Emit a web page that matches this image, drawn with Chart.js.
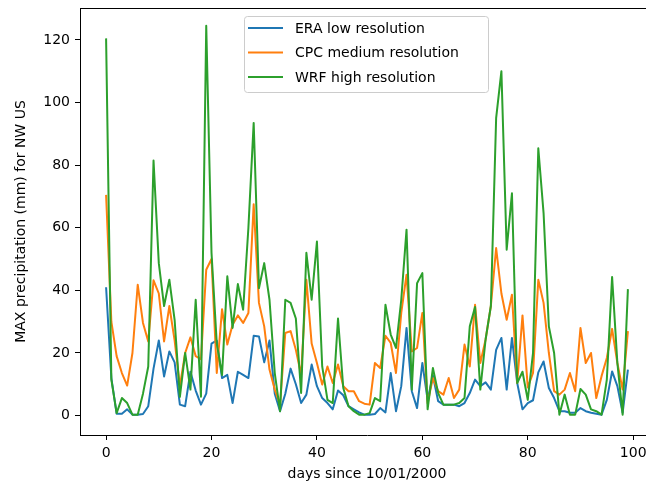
<!DOCTYPE html>
<html>
<head>
<meta charset="utf-8">
<script src="https://cdn.jsdelivr.net/npm/chart.js@4.4.0/dist/chart.umd.min.js"></script>
<style>
    html, body { margin: 0; padding: 0; background: #fff; overflow: hidden; }
    #wrap { width: 646px; height: 486px; overflow: hidden; }
    canvas { background: #fff; }
</style>
</head>
<body>
<div id="wrap"><canvas id="precip" width="660" height="486"></canvas></div>
<script>
// Values, one per day (day 0 .. 99)
const era_low = [
    41, 12, 0.6, 0.6, 2, 0.3, 0.3, 0.5, 3, 15,
    24, 12.5, 20.5, 17, 3.5, 3, 14, 8, 3.5, 7,
    23, 24, 12, 13, 4, 14, 13, 12, 25.5, 25.3,
    17, 24, 7, 1.4, 7, 15, 10, 4, 6.7, 16.3,
    9.4, 5.6, 4, 2, 8, 6.5, 3, 2, 1, 0.3,
    0.3, 0.5, 2.4, 1, 13.6, 1.4, 9.4, 28, 7.8, 2.4,
    16.8, 5, 12.8, 4.6, 3.5, 3.5, 3.5, 3, 4, 7.2,
    11.5, 9.4, 10.6, 8.3, 21, 24.8, 8.3, 24.8, 10.4, 2,
    4, 4.9, 13.8, 17.3, 8.8, 5.6, 1.4, 1.4, 0.9, 0.9,
    2.4, 1.4, 0.9, 0.6, 0.3, 5, 14.1, 9.4, 0.9, 14.7
];

const cpc_medium = [
    70.5, 30, 19, 13.6, 9.6, 20, 41.8, 29.6, 23.7, 43.2,
    39, 23.7, 35, 24, 9.4, 20, 25, 19, 18, 46.6,
    50, 13.6, 34, 22.7, 29, 32, 29.6, 32.8, 67.5, 36,
    28.5, 14.7, 8.3, 3.5, 26.4, 27, 21, 13, 43.4, 23,
    16.8, 9.9, 15.7, 10.4, 16.3, 9.4, 7.8, 7.8, 4.6, 3.8,
    3.5, 16.8, 15.2, 25.5, 23.2, 13.6, 32.8, 45, 20.5, 21.6,
    32.8, 4, 12, 7.8, 6.7, 12, 5.6, 8.3, 22.7, 15.7,
    35.4, 16.8, 24.3, 35, 53.5, 39, 30.6, 38.6, 10.4, 32,
    9, 13.6, 43.4, 36, 20, 7.8, 6.7, 8.3, 13.6, 7.8,
    28, 16.8, 20, 5.6, 12.6, 18.4, 27.7, 16.8, 8.3, 27
];

const wrf_high = [
    120.5, 11.5, 0.8, 5.6, 4, 0.3, 0.3, 7, 15.7, 81.5,
    48.7, 35, 43.4, 30.6, 6, 20, 8.3, 37, 6, 124.5,
    52, 23, 13, 44.5, 28, 42, 33.8, 60, 93.5, 40.7,
    48.7, 37, 13.6, 1.4, 37, 36, 31, 7.2, 52, 37,
    55.6, 15.7, 5, 4, 31, 8.8, 3, 1.4, 0.3, 0.3,
    0.8, 5.6, 4.6, 35.4, 25.9, 21.6, 37, 59.4, 8.3, 42.3,
    45.5, 2, 15.2, 7.2, 3.5, 3.5, 3.5, 4, 5.6, 28.5,
    34.7, 8.3, 24.3, 35, 95, 110, 53, 71, 10.4, 14,
    5, 20, 85.4, 64.7, 28.5, 20, 0.3, 6.7, 0.3, 0.3,
    8.5, 6.7, 2, 1.4, 0.3, 11.5, 44.3, 16.8, 0.3, 40.4
];

const series_labels = ["ERA low resolution", "CPC medium resolution", "WRF high resolution"];
const x_ticks = [0, 20, 40, 60, 80, 100];
const y_ticks = [0, 20, 40, 60, 80, 100, 120];

const colours = ["#1f77b4", "#ff7f0e", "#2ca02c"];

Chart.defaults.font.family = "'DejaVu Sans', sans-serif";
Chart.defaults.font.size = 14;
Chart.defaults.color = "#000";

function toPoints(values) {
    return values.map((v, i) => ({x: i, y: v}));
}

// matplotlib style legend box + top spine
const mplExtras = {
    id: "mplExtras",
    afterDraw(chart) {
        const ctx = chart.ctx;
        const area = chart.chartArea;

        ctx.save();
        ctx.strokeStyle = "#000";
        ctx.lineWidth = 1;
        ctx.beginPath();
        ctx.moveTo(area.left, area.top + 0.5);
        ctx.lineTo(area.right, area.top + 0.5);
        ctx.stroke();

        // legend
        const bx = 244.5, by = 16.5, bw = 244, bh = 76;
        ctx.fillStyle = "rgba(255,255,255,0.8)";
        ctx.strokeStyle = "#cccccc";
        ctx.beginPath();
        ctx.roundRect(bx, by, bw, bh, 3);
        ctx.fill();
        ctx.stroke();

        const rows = [28, 52.5, 77];
        ctx.font = "14px 'DejaVu Sans'";
        ctx.textBaseline = "middle";
        chart.data.datasets.forEach((ds, i) => {
            ctx.strokeStyle = ds.borderColor;
            ctx.lineWidth = 2;
            ctx.beginPath();
            ctx.moveTo(248, rows[i]);
            ctx.lineTo(283, rows[i]);
            ctx.stroke();
            ctx.fillStyle = "#000";
            ctx.fillText(ds.label, 295, rows[i] + 1);
        });
        ctx.restore();
    }
};

const datasets = [era_low, cpc_medium, wrf_high].map((vals, i) => ({
    label: series_labels[i],
    data: toPoints(vals),
    borderColor: colours[i],
    backgroundColor: colours[i],
    borderWidth: 2,
    pointRadius: 0,
    tension: 0,
    borderJoinStyle: "round",
    order: 3 - i          // green drawn on top
}));

const config = {
    type: "line",
    data: { datasets: datasets },
    options: {
        responsive: false,
        animation: false,
        devicePixelRatio: 1,
        layout: {
            padding: { top: 8, right: 6, left: 0, bottom: 0 }
        },
        plugins: {
            legend: { display: false },
            tooltip: { enabled: false }
        },
        scales: {
            x: {
                type: "linear",
                min: -4.95,
                max: 103.95,
                afterBuildTicks: (scale) => { scale.ticks = x_ticks.map(v => ({value: v})); },
                afterFit: (scale) => {
                    scale.height = 51;
                    scale.paddingLeft = 0;
                    scale.paddingRight = 0;
                },
                grid: { drawOnChartArea: false, tickLength: 5, color: "#000", tickColor: "#000" },
                border: { color: "#000", width: 1 },
                ticks: { padding: 5, maxRotation: 0, color: "#000" },
                title: {
                    display: true,
                    text: "days since 10/01/2000",
                    color: "#000",
                    padding: { top: 0, bottom: 3.6 }
                }
            },
            y: {
                type: "linear",
                min: -6.2,
                max: 130.2,
                afterBuildTicks: (scale) => { scale.ticks = y_ticks.map(v => ({value: v})); },
                afterFit: (scale) => {
                    scale.width = 80;
                    scale.paddingTop = 0;
                    scale.paddingBottom = 0;
                },
                grid: { drawOnChartArea: false, tickLength: 5, color: "#000", tickColor: "#000" },
                border: { color: "#000", width: 1 },
                ticks: { padding: 5, color: "#000" },
                title: {
                    display: true,
                    text: "MAX precipitation (mm) for NW US",
                    color: "#000",
                    padding: { top: 12.6, bottom: 0 }
                }
            }
        }
    },
    plugins: [mplExtras]
};

const ctx = document.getElementById("precip").getContext("2d");
const precip_chart = new Chart(ctx, config);
</script>
</body>
</html>
